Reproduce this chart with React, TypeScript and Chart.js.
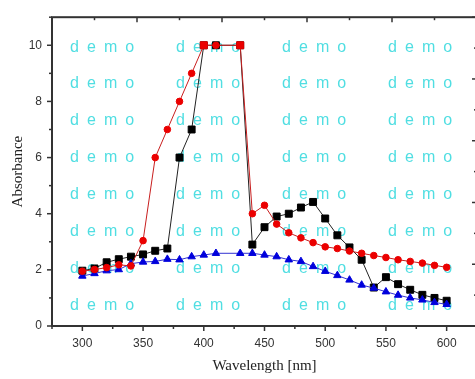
import { useEffect, useRef } from 'react';
import { Chart, registerables } from 'chart.js';

Chart.register(...registerables);

// Wavelength [nm] (no sample at 420)
const wavelengths = [300, 310, 320, 330, 340, 350, 360, 370, 380, 390, 400, 410, 430, 440, 450, 460, 470, 480, 490, 500, 510, 520, 530, 540, 550, 560, 570, 580, 590, 600];

const seriesBlack = [1.97, 2.05, 2.27, 2.38, 2.47, 2.55, 2.68, 2.76, 6.0, 7.0, 10, 10, 10, 2.9, 3.52, 3.9, 4.0, 4.22, 4.42, 3.83, 3.23, 2.8, 2.36, 1.37, 1.74, 1.49, 1.29, 1.11, 1.0, 0.9];
const seriesRed = [1.95, 2.01, 2.08, 2.18, 2.14, 3.04, 6.0, 7.0, 8.0, 9.0, 10, 10, 10, 4.0, 4.3, 3.63, 3.32, 3.14, 2.97, 2.82, 2.76, 2.67, 2.59, 2.51, 2.44, 2.36, 2.3, 2.24, 2.16, 2.09];
const seriesBlue = [1.78, 1.87, 1.97, 2.01, 2.22, 2.28, 2.3, 2.38, 2.36, 2.47, 2.53, 2.59, 2.59, 2.59, 2.53, 2.47, 2.36, 2.3, 2.12, 1.95, 1.8, 1.64, 1.46, 1.35, 1.22, 1.1, 1.0, 0.93, 0.84, 0.77];

// red points that show as squares
const redSquareAt = [400, 430];

const xTitle = 'Wavelength [nm]';
const yTitle = 'Absorbance';
const watermarkText = 'd e m o';

const xMin = 275, xMax = 625, xStep = 25, xLabelStep = 50;
const yMin = 0, yMax = 11, yStep = 1, yLabelStep = 2;

const TICK_FONT = '"Liberation Sans", Arial, sans-serif';
const TITLE_FONT = '"Liberation Serif", "Times New Roman", serif';

const watermarkPlugin = {
  id: 'watermark',
  beforeDatasetsDraw(chart: any) {
    const { ctx, chartArea } = chart;
    ctx.save();
    ctx.font = '16px ' + TICK_FONT;
    ctx.fillStyle = 'rgb(80,222,226)';
    ctx.textAlign = 'left';
    ctx.textBaseline = 'alphabetic';
    try { (ctx as any).letterSpacing = '1.8px'; } catch (e) {}
    for (let r = 0; r < 8; r++) {
      for (let c = 0; c < 4; c++) {
        ctx.fillText(watermarkText, chartArea.left + 18 + c * 106, chartArea.top + 34.3 + r * 36.86);
      }
    }
    ctx.restore();
  },
};

const framePlugin = {
  id: 'frame',
  afterDatasetsDraw(chart: any) {
    const { ctx, chartArea, scales } = chart;
    const { left, right, top, bottom } = chartArea;
    ctx.save();
    ctx.strokeStyle = '#333';
    ctx.lineWidth = 1.5;
    const line = (x1: number, y1: number, x2: number, y2: number) => {
      ctx.beginPath();
      ctx.moveTo(x1, y1);
      ctx.lineTo(x2, y2);
      ctx.stroke();
    };
    scales.x.ticks.forEach((t: any) => {
      const px = scales.x.getPixelForValue(t.value);
      const major = Math.abs(t.value % xLabelStep) < 1e-6;
      line(px, bottom, px, bottom + (major ? 5 : 3));
    });
    scales.y.ticks.forEach((t: any) => {
      const py = scales.y.getPixelForValue(t.value);
      const major = Math.abs(t.value % yLabelStep) < 1e-6;
      line(left - (major ? 5 : 3), py, left, py);
    });
    scales.x2.ticks.forEach((t: any) => {
      const px = scales.x2.getPixelForValue(t.value);
      const major = Math.abs(t.value % 2) < 1e-6;
      line(px, top, px, top + (major ? 5 : 3));
    });
    scales.y2.ticks.forEach((t: any) => {
      const py = scales.y2.getPixelForValue(t.value);
      const major = Math.abs(t.value % 2) < 1e-6;
      line(right - (major ? 5 : 3), py, right, py);
    });
    ctx.lineWidth = 2;
    ctx.strokeStyle = '#333';
    ctx.strokeRect(left, top, right - left, bottom - top);
    ctx.restore();
  },
};

export default function App() {
  const ref = useRef<HTMLCanvasElement>(null);

  useEffect(() => {
    const toPts = (vals: number[]) => wavelengths.map((x, i) => ({ x, y: vals[i] }));
    const redStyles = wavelengths.map((x) => (redSquareAt.includes(x) ? 'rect' : 'circle'));
    const redRadii = wavelengths.map((x) => (redSquareAt.includes(x) ? 4.9 : 3.3));

    const chart = new Chart(ref.current as HTMLCanvasElement, {
      type: 'line',
      data: {
        datasets: [
          {
            label: 'red',
            data: toPts(seriesRed),
            borderColor: 'rgb(200,30,30)',
            borderWidth: 1,
            pointStyle: redStyles as any,
            pointRadius: redRadii,
            pointBackgroundColor: 'rgb(235,0,0)',
            pointBorderColor: 'rgb(235,0,0)',
            pointBorderWidth: 1,
            tension: 0,
          },
          {
            label: 'blue',
            data: toPts(seriesBlue),
            borderColor: 'rgb(50,50,210)',
            borderWidth: 1,
            pointStyle: 'triangle',
            pointRadius: 4.3,
            pointBackgroundColor: 'rgb(0,0,220)',
            pointBorderColor: 'rgb(0,0,220)',
            pointBorderWidth: 1,
            tension: 0,
          },
          {
            label: 'black',
            data: toPts(seriesBlack),
            borderColor: '#222',
            borderWidth: 1,
            pointStyle: 'rect',
            pointRadius: 4.9,
            pointBackgroundColor: '#000',
            pointBorderColor: '#000',
            pointBorderWidth: 1,
            tension: 0,
          },
        ],
      },
      options: {
        animation: false,
        responsive: false,
        devicePixelRatio: 1,
        layout: { padding: 0 },
        plugins: { legend: { display: false }, tooltip: { enabled: false } },
        scales: {
          x: {
            type: 'linear',
            position: 'bottom',
            min: xMin,
            max: xMax,
            grid: { display: false, drawTicks: false },
            border: { display: false },
            ticks: {
              stepSize: xStep,
              autoSkip: false,
              maxRotation: 0,
              maxTicksLimit: 100,
              padding: 10,
              color: '#333',
              font: { family: TICK_FONT, size: 12 },
              callback: (v: any) => (Math.abs(Number(v) % xLabelStep) < 1e-6 ? String(v) : ''),
            },
            title: {
              display: true,
              text: xTitle,
              color: '#222',
              font: { family: TITLE_FONT, size: 15, lineHeight: 1.2 },
              padding: { top: 0, bottom: 4 },
            },
            afterFit: (s: any) => { s.height = 53; },
          },
          x2: {
            type: 'linear',
            position: 'top',
            min: 0,
            max: 10,
            grid: { display: false, drawTicks: false },
            border: { display: false },
            ticks: { display: false, stepSize: 1, maxTicksLimit: 100 },
            afterFit: (s: any) => { s.height = 10; },
          },
          y: {
            type: 'linear',
            position: 'left',
            min: yMin,
            max: yMax,
            grid: { display: false, drawTicks: false },
            border: { display: false },
            ticks: {
              stepSize: yStep,
              autoSkip: false,
              maxTicksLimit: 100,
              padding: 10,
              color: '#333',
              font: { family: TICK_FONT, size: 12 },
              callback: (v: any) => (Math.abs(Number(v) % yLabelStep) < 1e-6 ? String(v) : ''),
            },
            title: {
              display: true,
              text: yTitle,
              color: '#222',
              font: { family: TITLE_FONT, size: 15, lineHeight: 1.2 },
              padding: { top: 9, bottom: 0 },
            },
            afterFit: (s: any) => { s.width = 52; },
          },
          y2: {
            type: 'linear',
            position: 'right',
            min: 0,
            max: 10,
            grid: { display: false, drawTicks: false },
            border: { display: false },
            ticks: { display: false, stepSize: 1, maxTicksLimit: 100 },
            afterFit: (s: any) => { s.width = 3; },
          },
        },
      } as any,
      plugins: [watermarkPlugin, framePlugin],
    });
    return () => chart.destroy();
  }, []);

  return (
    <div style={{ position: 'absolute', left: 0, top: 0, width: 475, height: 379, overflow: 'hidden', background: '#fff' }}>
      <canvas ref={ref} width={487} height={379} style={{ display: 'block', width: 487, height: 379 }} />
    </div>
  );
}
